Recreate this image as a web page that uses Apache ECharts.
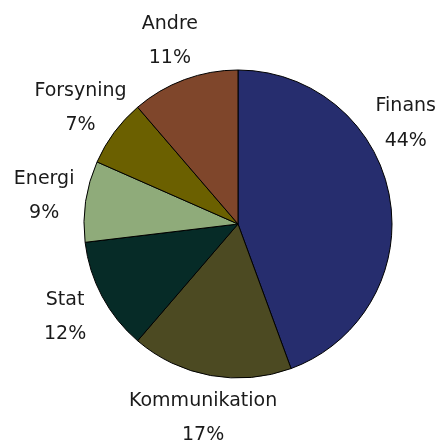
<!DOCTYPE html>
<html>
<head>
<meta charset="utf-8">
<script src="https://cdn.jsdelivr.net/npm/echarts@6/dist/echarts.min.js"></script>
<style>
  html, body { margin: 0; padding: 0; background: #fff; }
  #chart { width: 437px; height: 444px; }
</style>
</head>
<body>
<div id="chart"></div>
<script>
// data (share of total, %)
var categories = ["Finans", "Kommunikation", "Stat", "Energi", "Forsyning", "Andre"];
var shares = [44.4, 16.9, 11.8, 8.5, 7.1, 11.3];
var colors = ["#262d6e", "#4c4a22", "#062b27", "#8fab7a", "#6b6000", "#7f462b"];

var W = 437, H = 444;
var cx = 238, cy = 224, radius = 154;
var labelRadius = 196;

var total = shares.reduce(function (a, b) { return a + b; }, 0);

// labels sit on a circle round the pie, at the slice's mid angle;
// a label that would leave the canvas slides along that circle
function placeLabel(params) {
    var i = params.dataIndex;
    var before = 0;
    for (var k = 0; k < i; k++) before += shares[k];
    var mid = (before + shares[i] / 2) / total * Math.PI * 2;
    var x = cx + labelRadius * Math.sin(mid);
    var y = cy - labelRadius * Math.cos(mid);
    var hw = params.labelRect.width / 2;
    var up = y < cy ? -1 : 1;
    if (x + hw > W - 1) {
        x = W - 1 - hw;
        y = cy + up * Math.sqrt(labelRadius * labelRadius - (x - cx) * (x - cx));
    } else if (x - hw < 1) {
        x = 1 + hw;
        y = cy + up * Math.sqrt(labelRadius * labelRadius - (x - cx) * (x - cx));
    }
    return { x: x, y: y + 1, align: "center", verticalAlign: "middle" };
}

var chart = echarts.init(document.getElementById("chart"));
chart.setOption({
    backgroundColor: "#fff",
    animation: false,
    series: [{
        type: "pie",
        center: [cx, cy],
        radius: radius,
        startAngle: 90,
        clockwise: true,
        avoidLabelOverlap: false,
        data: categories.map(function (name, i) {
            return { name: name, value: shares[i], itemStyle: { color: colors[i] } };
        }),
        itemStyle: { borderColor: "#000", borderWidth: 1 },
        label: {
            show: true,
            position: "outside",
            formatter: function (p) {
                return p.name + "\n" + Math.round(p.value) + "%";
            },
            fontFamily: "DejaVu Sans",
            fontSize: 19,
            lineHeight: 34.5,
            color: "#1a1a1a",
            align: "center",
            overflow: "none"
        },
        labelLine: { show: false },
        labelLayout: placeLabel,
        emphasis: { disabled: true }
    }]
});
</script>
</body>
</html>
